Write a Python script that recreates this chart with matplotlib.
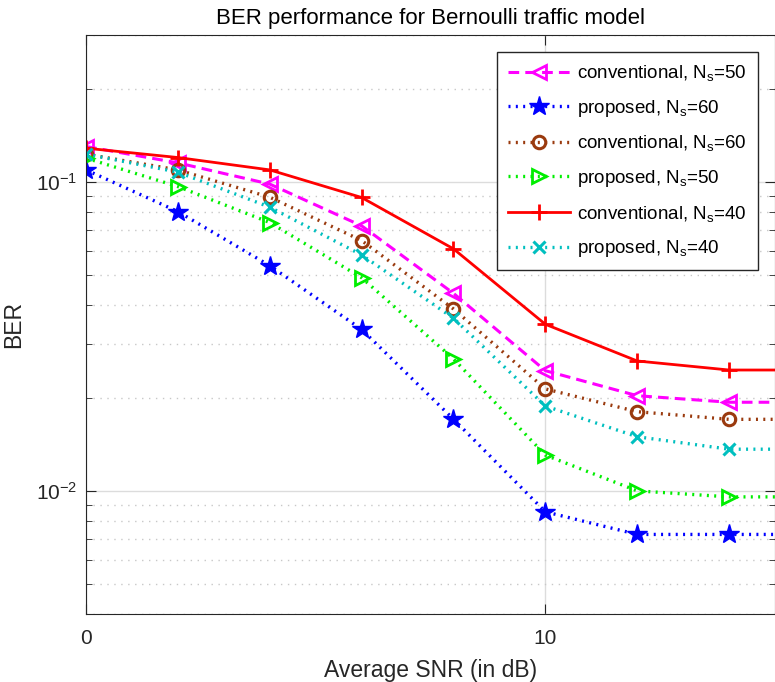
import matplotlib
matplotlib.use('Agg')
import matplotlib.pyplot as plt
from matplotlib.ticker import LogLocator, FixedLocator, NullFormatter

plt.rcParams['font.family'] = ['Liberation Sans', 'DejaVu Sans']
plt.rcParams['mathtext.fontset'] = 'custom'
plt.rcParams['mathtext.rm'] = 'Liberation Sans'
plt.rcParams['mathtext.it'] = 'Liberation Sans:italic'

# SNR points (dB)
snr = [0, 2, 4, 6, 8, 10, 12, 14, 16]

# BER curves
conv_50 = [0.1306, 0.1156, 0.0987, 0.0723, 0.0437, 0.02455, 0.02037, 0.0194, 0.0194]
prop_60 = [0.1097, 0.0804, 0.0537, 0.0334, 0.0171, 0.00857, 0.00724, 0.00724, 0.00724]
conv_60 = [0.1234, 0.1097, 0.0895, 0.0648, 0.0389, 0.02143, 0.01808, 0.01708, 0.01708]
prop_50 = [0.1198, 0.0969, 0.0741, 0.0491, 0.0268, 0.01308, 0.01002, 0.00958, 0.00958]
conv_40 = [0.129, 0.1203, 0.1097, 0.0893, 0.0609, 0.0347, 0.02639, 0.02467, 0.02467]
prop_40 = [0.1234, 0.1079, 0.0831, 0.0582, 0.0363, 0.01886, 0.0150, 0.01367, 0.01367]

labels = [r'conventional, N$_{\rm s}$=50', r'proposed, N$_{\rm s}$=60',
          r'conventional, N$_{\rm s}$=60', r'proposed, N$_{\rm s}$=50',
          r'conventional, N$_{\rm s}$=40', r'proposed, N$_{\rm s}$=40']

dot = (0, (0.6, 1.6))

fig = plt.figure(figsize=(7.75, 6.82), dpi=100)
ax = fig.add_axes([0.111, 0.0997, 0.889, 0.849])

ax.plot(snr, conv_50, color='#ff00ff', ls=(0, (3.5, 2)), lw=2.2, marker='<',
        ms=10, mfc='none', mew=2, label=labels[0])
ax.plot(snr, prop_60, color='#0000ff', ls=dot, lw=2.4,
        marker='*', ms=15, label=labels[1])
ax.plot(snr, conv_60, color='#9a3a0e', ls=dot, lw=2.4, marker='o',
        ms=9, mfc='none', mew=2.2, label=labels[2])
ax.plot(snr, prop_50, color='#00ee00', ls=dot, lw=2.4, marker='>',
        ms=10, mfc='none', mew=2, label=labels[3])
ax.plot(snr, conv_40, color='#ff0000', ls='-', lw=2, marker='+',
        ms=12, mew=2, label=labels[4])
ax.plot(snr, prop_40, color='#00bfbf', ls=dot, lw=2.4, marker='x',
        ms=9, mew=2.2, label=labels[5])

ax.set_yscale('log')
ax.set_xlim(0, 15)
ax.set_ylim(0.004, 0.3)
ax.xaxis.set_major_locator(FixedLocator([0, 10]))
ax.yaxis.set_major_locator(LogLocator(base=10, numticks=10))
ax.yaxis.set_minor_locator(LogLocator(base=10, subs=range(2, 10), numticks=10))
ax.yaxis.set_minor_formatter(NullFormatter())

ax.grid(True, which='major', color='#dcdcdc', lw=1, ls='-')
ax.grid(True, which='minor', axis='y', color='#c8c8c8', lw=1, ls=(0, (1, 4)))
ax.set_axisbelow(True)

ax.tick_params(which='both', direction='in', top=True, right=True,
               labelsize=15, colors='#262626')
ax.tick_params(axis='x', pad=11)
ax.tick_params(axis='y', pad=6)
ax.tick_params(which='major', length=7)
ax.tick_params(which='minor', length=4)
for s in ax.spines.values():
    s.set_color('#262626')

ax.set_title('BER performance for Bernoulli traffic model', fontsize=16, pad=8)
ax.set_xlabel('Average SNR (in dB)', fontsize=16.5, color='#262626', labelpad=8)
ax.set_ylabel('BER', fontsize=16.5, color='#262626', labelpad=8)

leg = ax.legend(loc='upper right', fontsize=13.5, fancybox=False, framealpha=1,
                edgecolor='#262626', borderpad=0.6, labelspacing=0.78,
                handlelength=3.3, handletextpad=0.4, borderaxespad=0.9)
leg.get_frame().set_linewidth(1)

fig.savefig('out.png', dpi=100)
